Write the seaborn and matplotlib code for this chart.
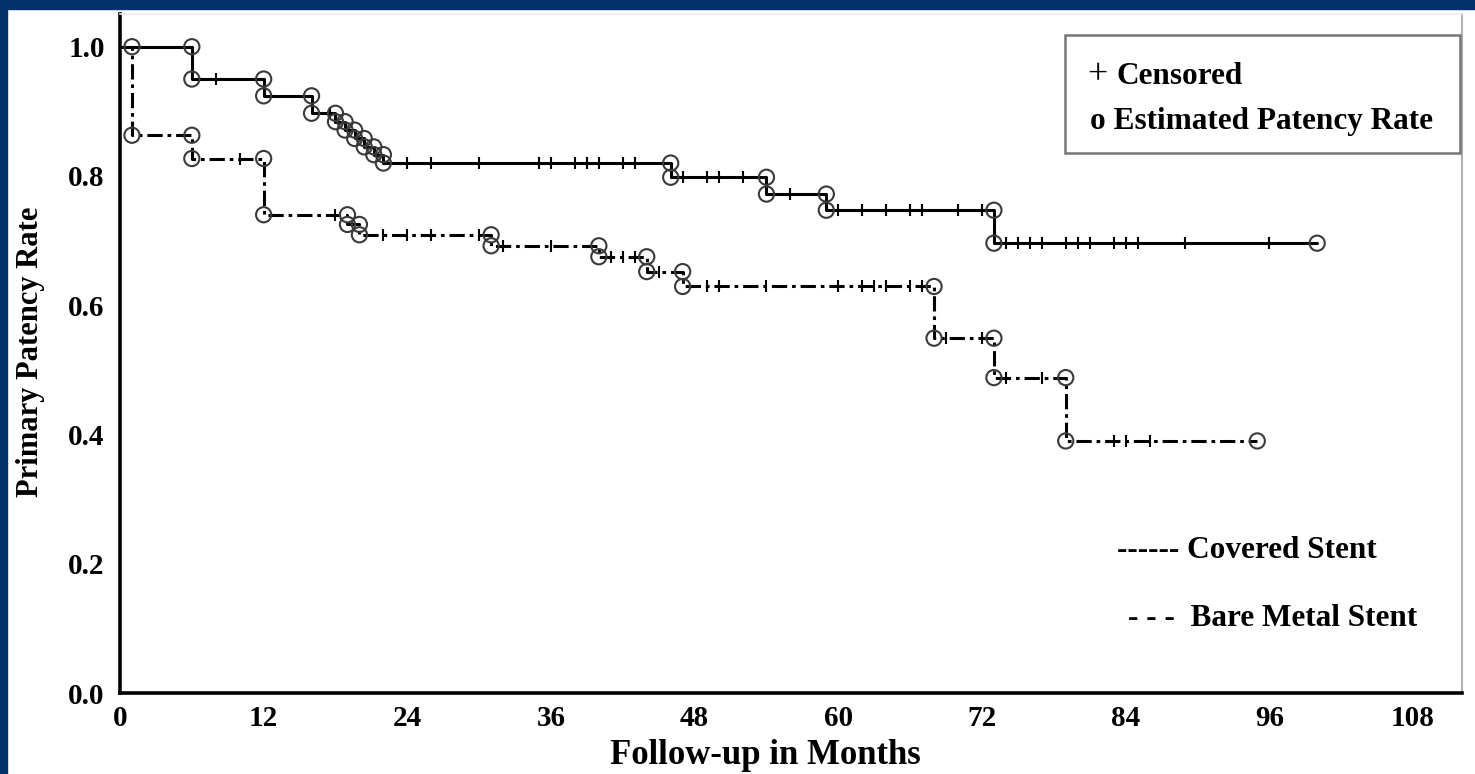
import matplotlib
matplotlib.use("Agg")
from matplotlib import pyplot as plt
from matplotlib.patches import Rectangle
import numpy as np
import pandas as pd
import seaborn as sns

# Kaplan-Meier style patency curves

# covered stent (solid)
covered_event_months = [6, 12, 16, 18, 18.8, 19.6, 20.4, 21.2, 22, 46, 54, 59, 73]
covered_rate = [0.950, 0.924, 0.897, 0.884, 0.871, 0.858, 0.845, 0.833, 0.820,
                0.798, 0.772, 0.747, 0.696]
covered_censored = [8, 17.5, 24, 26, 30, 35, 36, 38, 39, 40, 42, 43, 47, 49, 50, 52,
                    56, 60, 62, 64, 66, 67, 70, 72, 74, 75, 76, 77, 79, 80, 81, 83,
                    84, 85, 89, 96]
covered_end = 100

# bare metal stent (dash-dot)
bare_event_months = [1, 6, 12, 19, 20, 31, 40, 44, 47, 68, 73, 79]
bare_rate = [0.863, 0.827, 0.740, 0.725, 0.709, 0.692, 0.675, 0.652, 0.629,
             0.549, 0.488, 0.390]
bare_censored = [10, 18, 22, 24, 26, 30, 32, 36, 41, 42, 43, 45, 49, 50, 54, 60, 62,
                 63, 64, 66, 67, 69, 72, 74, 77, 83, 84, 86]
bare_end = 95

x_ticks = [0, 12, 24, 36, 48, 60, 72, 84, 96, 108]
y_ticks = [0.0, 0.2, 0.4, 0.6, 0.8, 1.0]

W, H = 1475, 774
BLUE = '#02336b'
SERIF = ['Liberation Serif', 'DejaVu Serif']


def fx(px):
    return px / W


def fy(py):
    return 1 - py / H


def step_frame(times, rates, end):
    # change points for a steps-post line
    t = [0] + list(times) + [end]
    r = [1.0] + list(rates) + [rates[-1]]
    return pd.DataFrame({'month': t, 'rate': r})


def circle_frame(times, rates, end):
    # estimated points: top and bottom of every drop, plus last point
    prev = [1.0] + list(rates[:-1])
    t = list(times) + list(times) + [end]
    r = prev + list(rates) + [rates[-1]]
    return pd.DataFrame({'month': t, 'rate': r})


def censor_frame(censored, times, rates):
    vals = []
    for c in censored:
        level = 1.0
        for t, r in zip(times, rates):
            if t <= c:
                level = r
        vals.append(level)
    return pd.DataFrame({'month': censored, 'rate': vals})


sns.set_theme(style='white')
plt.rcParams['font.family'] = SERIF
plt.rcParams['font.weight'] = 'bold'
plt.rcParams['text.color'] = 'black'

fig = plt.figure(figsize=(W / 100, H / 100), dpi=100, facecolor='white')
ax = fig.add_axes([fx(120), fy(693), fx(1462) - fx(120), fy(14.4) - fy(693)])

# blue frame strips (left and top)
fig.patches.append(Rectangle((0, 0), fx(7), 1, transform=fig.transFigure,
                             color=BLUE, zorder=0))
fig.patches.append(Rectangle((0, fy(9)), 1, 1 - fy(9), transform=fig.transFigure,
                             color=BLUE, zorder=0))

curves = [
    (covered_event_months, covered_rate, covered_end, covered_censored, '-'),
    (bare_event_months, bare_rate, bare_end, bare_censored, (0, (5, 1.6, 1.2, 1.6))),
]

for times, rates, end, cens, ls in curves:
    sns.lineplot(data=step_frame(times, rates, end), x='month', y='rate', ax=ax,
                 drawstyle='steps-post', color='black', linewidth=2.2,
                 linestyle=ls, estimator=None, sort=False, zorder=3)
    sns.scatterplot(data=censor_frame(cens, times, rates), x='month', y='rate', ax=ax,
                    marker='|', s=70, color='black', linewidth=1.5, zorder=4)
    sns.scatterplot(data=circle_frame(times, rates, end), x='month', y='rate', ax=ax,
                    marker='o', s=120, facecolors='none', edgecolor='#3a3a3a',
                    linewidth=1.5, zorder=5)

ax.set_xlim(0, 112.1)
ax.set_ylim(0, 1.05)
ax.set_xticks(x_ticks)
ax.set_yticks(y_ticks)
ax.set_yticklabels([f'{v:.1f}' for v in y_ticks])
ax.set_xlabel('')
ax.set_ylabel('')
ax.tick_params(axis='both', which='both', direction='out', length=7, width=1.2,
               color='#555555', labelsize=21, labelcolor='black', pad=4)
ax.tick_params(axis='x', length=5, pad=4)
for lbl in ax.get_xticklabels() + ax.get_yticklabels():
    lbl.set_fontweight('bold')

for side in ['left', 'bottom']:
    ax.spines[side].set_color('black')
    ax.spines[side].set_linewidth(2.6)
ax.spines['right'].set_color('#b0b0b0')
ax.spines['right'].set_linewidth(1.5)
ax.spines['top'].set_color('#ececec')
ax.spines['top'].set_linewidth(1.2)

# axis titles
fig.text(fx(765), fy(756), 'Follow-up in Months', ha='center', va='center',
         fontsize=25, fontweight='bold')
fig.text(fx(31), fy(352), 'Primary Patency Rate', ha='center', va='center',
         rotation=90, fontsize=22, fontweight='bold')

# marker key box
fig.patches.append(Rectangle((fx(1065), fy(153)), fx(1460) - fx(1065), fy(35) - fy(153),
                             transform=fig.transFigure, facecolor='none',
                             edgecolor='#777777', linewidth=1.8, zorder=6))
fig.text(fx(1087), fy(76), '+', ha='left', va='center', fontsize=26,
         fontweight='normal')
fig.text(fx(1117), fy(76), 'Censored', ha='left', va='center', fontsize=22.5,
         fontweight='bold')
fig.text(fx(1090), fy(122), 'o Estimated Patency Rate', ha='left', va='center',
         fontsize=22.5, fontweight='bold')

# line key
fig.text(fx(1117), fy(551), '------ Covered Stent', ha='left', va='center',
         fontsize=22.5, fontweight='bold')
fig.text(fx(1128), fy(618), '- - -  Bare Metal Stent', ha='left', va='center',
         fontsize=22.5, fontweight='bold')

fig.savefig('out.png', dpi=100, facecolor=fig.get_facecolor())
